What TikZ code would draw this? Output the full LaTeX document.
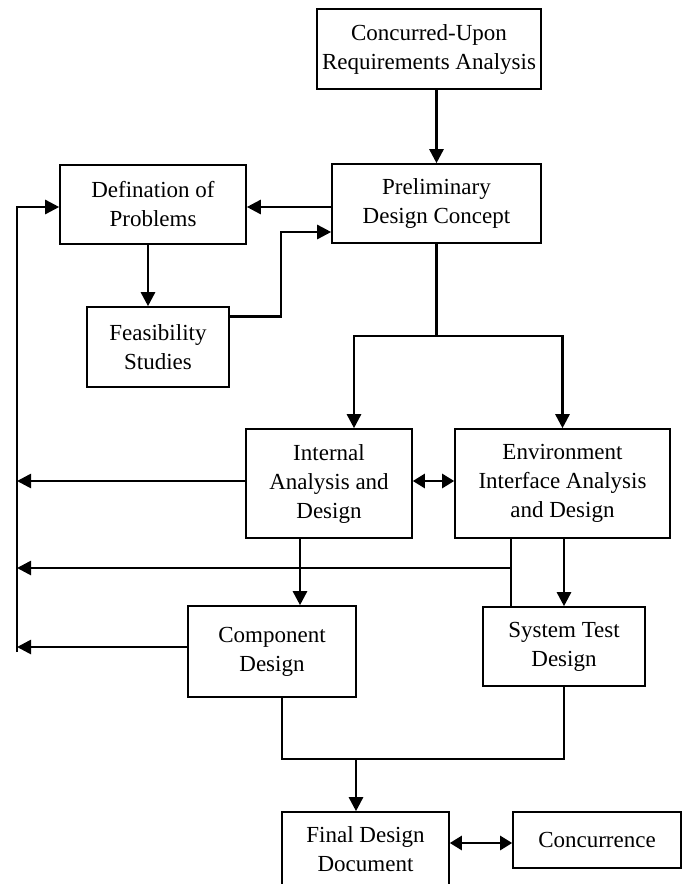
\documentclass[tikz,border=0pt]{standalone}
\usepackage{fontspec}
\setmainfont{Liberation Serif}
\usetikzlibrary{arrows.meta}
\begin{document}
\begin{tikzpicture}[x=1pt,y=-1pt,
  box/.style={draw, line width=1.6pt, rectangle, inner sep=0pt, align=center,
    font=\fontsize{23}{29}\selectfont},
  link/.style={line width=2.6pt},
  arr/.style={link, -{Triangle[length=14pt,width=14pt]}},
  dbl/.style={link, {Triangle[length=12pt,width=14pt]}-{Triangle[length=12pt,width=14pt]}},
  thinlink/.style={line width=1.6pt}]
\useasboundingbox (0,0) rectangle (682,884);
\clip (0,0) rectangle (682,884);

% boxes
\node[box, minimum width=224pt, minimum height=80pt] (conc) at (429,49) {Concurred-Upon\\Requirements Analysis};
\node[box, minimum width=209pt, minimum height=79pt] (pre) at (436.5,203.5) {Preliminary\\Design Concept};
\node[box, minimum width=186pt, minimum height=79pt] (def) at (153,204.5) {Defination of\\Problems};
\node[box, minimum width=142pt, minimum height=80pt] (feas) at (158,347) {Feasibility\\Studies};
\node[box, minimum width=166pt, minimum height=109pt] (int) at (329,483.5) {Internal\\Analysis and\\Design};
\node[box, minimum width=215pt, minimum height=109pt] (env) at (562.5,483.5) {Environment\\Interface Analysis\\and Design};
\node[box, minimum width=168pt, minimum height=91pt] (comp) at (272,651.5) {Component\\Design};
\node[box, minimum width=162pt, minimum height=79pt] (sys) at (564,646.5) {System Test\\Design};
\node[box, minimum width=167pt, minimum height=74pt] (fin) at (365.5,849) {Final Design\\Document};
\node[box, minimum width=168pt, minimum height=56pt] (concur) at (597,840) {Concurrence};

% top of the flow
\draw[arr] (conc.south -| pre.north) -- (pre.north);
\coordinate (p1) at ([yshift=-3.5pt]pre.west);
\draw[arr] (p1) -- (p1 -| def.east);
\coordinate (d1) at ([xshift=-5pt]def.south);
\draw[arr] (d1) -- (d1 |- feas.north);
\coordinate (f1) at ([yshift=-10pt]feas.north east);
\coordinate (p2) at ([yshift=-28.5pt]pre.west);
\draw[arr] (f1) -- ++(51,0) |- (p2);

% split into the two analysis branches
\coordinate (j1) at (pre.south |- 0,336);
\coordinate (bl) at (354,336);
\coordinate (br) at (env.north |- j1);
\draw[link] (pre.south) -- (j1);
\draw[arr] (j1) -- (bl) -- (bl |- int.north);
\draw[arr] (j1) -- (br) -- (env.north);
\coordinate (i1) at ([yshift=2.5pt]int.east);
\draw[dbl] (i1) -- (i1 -| env.west);

% feedback line on the left
\coordinate (lbot) at (17,652);
\coordinate (dw) at ([yshift=-2.5pt]def.west);
\draw[arr] (lbot) |- (dw);
\coordinate (i0) at ([yshift=2.5pt]int.west);
\draw[arr] (i0) -- (i0 -| lbot);
\coordinate (e1) at (env.south -| 511,0);
\draw[thinlink] (e1) -- (e1 |- sys.north);
\draw[arr] (e1 |- 0,568) -- (lbot |- 0,568);
\coordinate (c1) at ([yshift=4.5pt]comp.west);
\draw[arr] (c1) -- (c1 -| lbot);

% design stage
\coordinate (i2) at (int.south -| 300,0);
\draw[arr] (i2) -- (i2 |- comp.north);
\draw[arr] (env.south -| sys.north) -- (sys.north);
\coordinate (c2) at (comp.south -| 282,0);
\draw[thinlink] (c2) -- (c2 |- 0,759) -- (sys.south |- 0,759) -- (sys.south);
\coordinate (m) at (356,759);
\draw[arr] (m) -- (m |- fin.north);
\draw[dbl] (fin.east |- 0,843) -- (concur.west |- 0,843);
\end{tikzpicture}
\end{document}
